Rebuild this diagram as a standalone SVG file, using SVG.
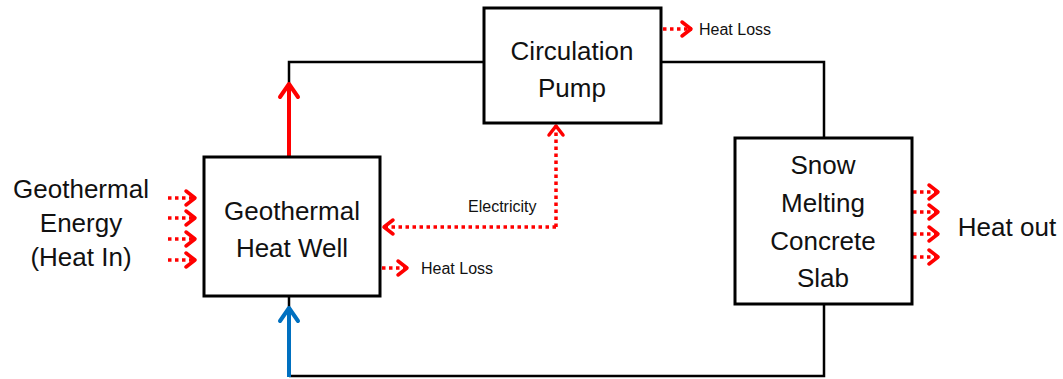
<svg xmlns="http://www.w3.org/2000/svg" width="1063" height="379" viewBox="0 0 1063 379">
<style>
.box{fill:#fff;stroke:#000;stroke-width:3}
.t{font-family:"Liberation Sans",Arial,sans-serif;font-size:26px;fill:#111;text-anchor:middle}
.s{font-family:"Liberation Sans",Arial,sans-serif;font-size:16px;fill:#111}
.wire{fill:none;stroke:#000;stroke-width:2.5}
.dot{fill:none;stroke:#f00;stroke-width:3.5;stroke-dasharray:3.5 3.5}
</style>
<defs>
<marker id="ch" viewBox="-14 -10 16 20" markerWidth="16" markerHeight="20" refX="0" refY="0" orient="auto" markerUnits="userSpaceOnUse">
<path d="M-10,-7 L-1,0 L-10,7" fill="none" stroke="#f00" stroke-width="3.5" stroke-linecap="round" stroke-linejoin="round"/>
</marker>
<marker id="chR" viewBox="-18 -12 20 24" markerWidth="20" markerHeight="24" refX="0" refY="0" orient="auto" markerUnits="userSpaceOnUse">
<path d="M-14,-9 L-1,0 L-14,9" fill="none" stroke="#f00" stroke-width="4" stroke-linecap="round" stroke-linejoin="round"/>
</marker>
<marker id="chB" viewBox="-18 -12 20 24" markerWidth="20" markerHeight="24" refX="0" refY="0" orient="auto" markerUnits="userSpaceOnUse">
<path d="M-14,-9 L-1,0 L-14,9" fill="none" stroke="#0070c0" stroke-width="4" stroke-linecap="round" stroke-linejoin="round"/>
</marker>
</defs>
<g id="connectors">
<polyline class="wire" points="289,84 289,62 484,62"/>
<polyline class="wire" points="661,62 824,62 824,138"/>
<polyline class="wire" points="824,304 824,376 289,376"/>
<line class="wire" x1="289" y1="296" x2="289" y2="310"/>
<line x1="289" y1="157" x2="289" y2="83" stroke="#f00" stroke-width="4" marker-end="url(#chR)"/>
<line x1="289" y1="377" x2="289" y2="307" stroke="#0070c0" stroke-width="4" marker-end="url(#chB)"/>
<polyline class="dot" points="556,227 556,125" marker-end="url(#ch)"/>
<polyline class="dot" points="556,227 383,227" marker-end="url(#ch)"/>
<line class="dot" x1="663" y1="29" x2="692" y2="29" marker-end="url(#ch)"/>
<line class="dot" x1="382" y1="268" x2="408" y2="268" marker-end="url(#ch)"/>
<line class="dot" x1="168" y1="198" x2="196" y2="198" marker-end="url(#ch)"/>
<line class="dot" x1="168" y1="218" x2="196" y2="218" marker-end="url(#ch)"/>
<line class="dot" x1="168" y1="239" x2="196" y2="239" marker-end="url(#ch)"/>
<line class="dot" x1="168" y1="260" x2="196" y2="260" marker-end="url(#ch)"/>
<line class="dot" x1="913" y1="192" x2="939" y2="192" marker-end="url(#ch)"/>
<line class="dot" x1="913" y1="212" x2="939" y2="212" marker-end="url(#ch)"/>
<line class="dot" x1="913" y1="234" x2="939" y2="234" marker-end="url(#ch)"/>
<line class="dot" x1="913" y1="257" x2="939" y2="257" marker-end="url(#ch)"/>
</g>
<g id="well">
<rect class="box" x="204" y="157" width="176" height="139"/>
<text class="t" x="292" y="220">Geothermal</text>
<text class="t" x="292" y="257">Heat Well</text>
</g>
<g id="pump">
<rect class="box" x="484" y="8" width="177" height="115"/>
<text class="t" x="572" y="60">Circulation</text>
<text class="t" x="572" y="97">Pump</text>
</g>
<g id="slab">
<rect class="box" x="735" y="138" width="177" height="166"/>
<text class="t" x="823" y="174">Snow</text>
<text class="t" x="823" y="212">Melting</text>
<text class="t" x="823" y="250">Concrete</text>
<text class="t" x="823" y="287">Slab</text>
</g>
<g id="labels">
<text class="t" x="81" y="198">Geothermal</text>
<text class="t" x="81" y="232">Energy</text>
<text class="t" x="81" y="266">(Heat In)</text>
<text class="t" x="1007" y="236">Heat out</text>
<text class="s" x="699" y="35">Heat Loss</text>
<text class="s" x="421" y="274">Heat Loss</text>
<text class="s" x="468" y="212">Electricity</text>
</g>
</svg>
